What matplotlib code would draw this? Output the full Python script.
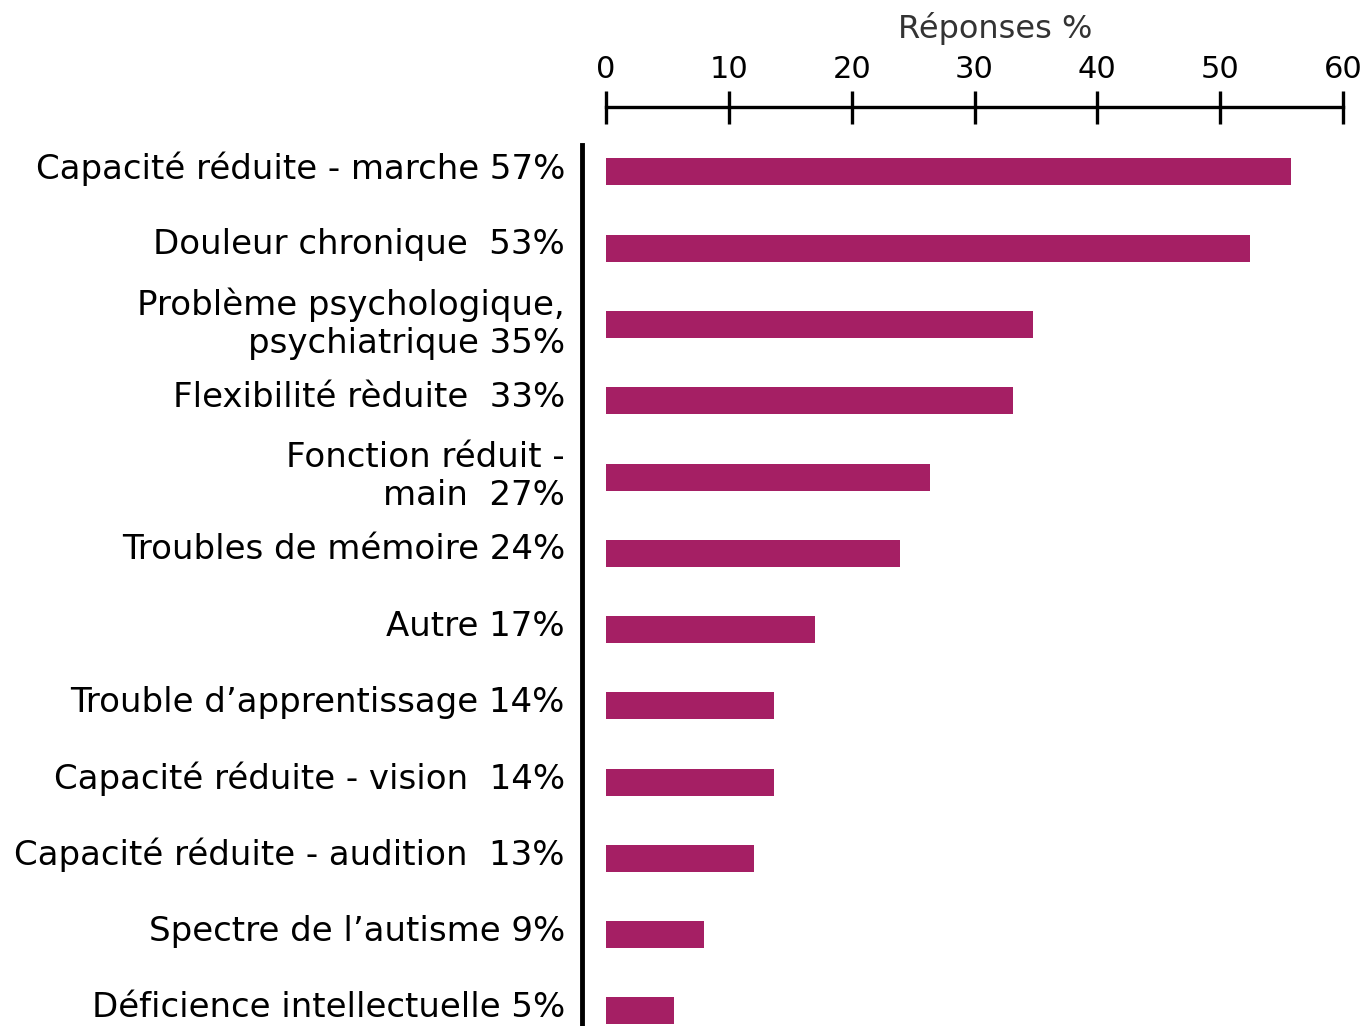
import numpy as np
import matplotlib
matplotlib.use("Agg")
import matplotlib.pyplot as plt
import matplotlib.transforms as mtransforms

# donnees
categories = ["Capacité réduite - marche", "Douleur chronique ",
              "Problème psychologique,\npsychiatrique", "Flexibilité rèduite ",
              "Fonction réduit -\nmain ", "Troubles de mémoire", "Autre",
              "Trouble d’apprentissage", "Capacité réduite - vision ",
              "Capacité réduite - audition ", "Spectre de l’autisme",
              "Déficience intellectuelle"]
pourcents = [57, 53, 35, 33, 27, 24, 17, 14, 14, 13, 9, 5]
longueurs = [55.8, 52.4, 34.8, 33.1, 26.35, 23.9, 17.0, 13.65, 13.65, 12.05, 8.0, 5.5]
graduations = [0, 10, 20, 30, 40, 50, 60]

couleur = "#A51F64"
px = 72 / 100  # points par pixel

fig = plt.figure(figsize=(13.67, 10.26), dpi=100)
ax = fig.add_axes([606 / 1367, 0, 737 / 1367, 881 / 1026])

y = np.arange(len(categories))
ax.barh(y, longueurs, height=0.354, color=couleur)

etiquettes = [f"{c} {p}%" for c, p in zip(categories, pourcents)]
ax.set_yticks(y)
ax.set_yticklabels(etiquettes)
ax.tick_params(axis="y", length=0, pad=17 * px, labelsize=24.5, colors="black")

ax.set_xlim(0, 60)
ax.set_ylim(11.197, -0.354)

# axe du haut
ax.xaxis.tick_top()
ax.set_xticks(graduations)
ax.tick_params(axis="x", direction="inout", length=33 * px, width=2.4, pad=4.5,
               labelsize=22, colors="black")
ax.spines["top"].set_position(("outward", 38 * px))
ax.spines["top"].set_linewidth(2.4)
ax.spines["left"].set_position(("outward", 24 * px))
ax.spines["left"].set_linewidth(3.5)
ax.spines["right"].set_visible(False)
ax.spines["bottom"].set_visible(False)

ax.xaxis.set_label_position("top")
ax.set_xlabel("Réponses %", fontsize=23, color="#333333")
ax.xaxis.set_label_coords(0.528, 1.122)

# etiquettes un peu au-dessus du centre des barres
decal = mtransforms.ScaledTranslation(0, 7 / 100, fig.dpi_scale_trans)
for t in ax.yaxis.get_major_ticks():
    t.label1.set_transform(t.label1.get_transform() + decal)

fig.savefig("out.png", dpi=100)
